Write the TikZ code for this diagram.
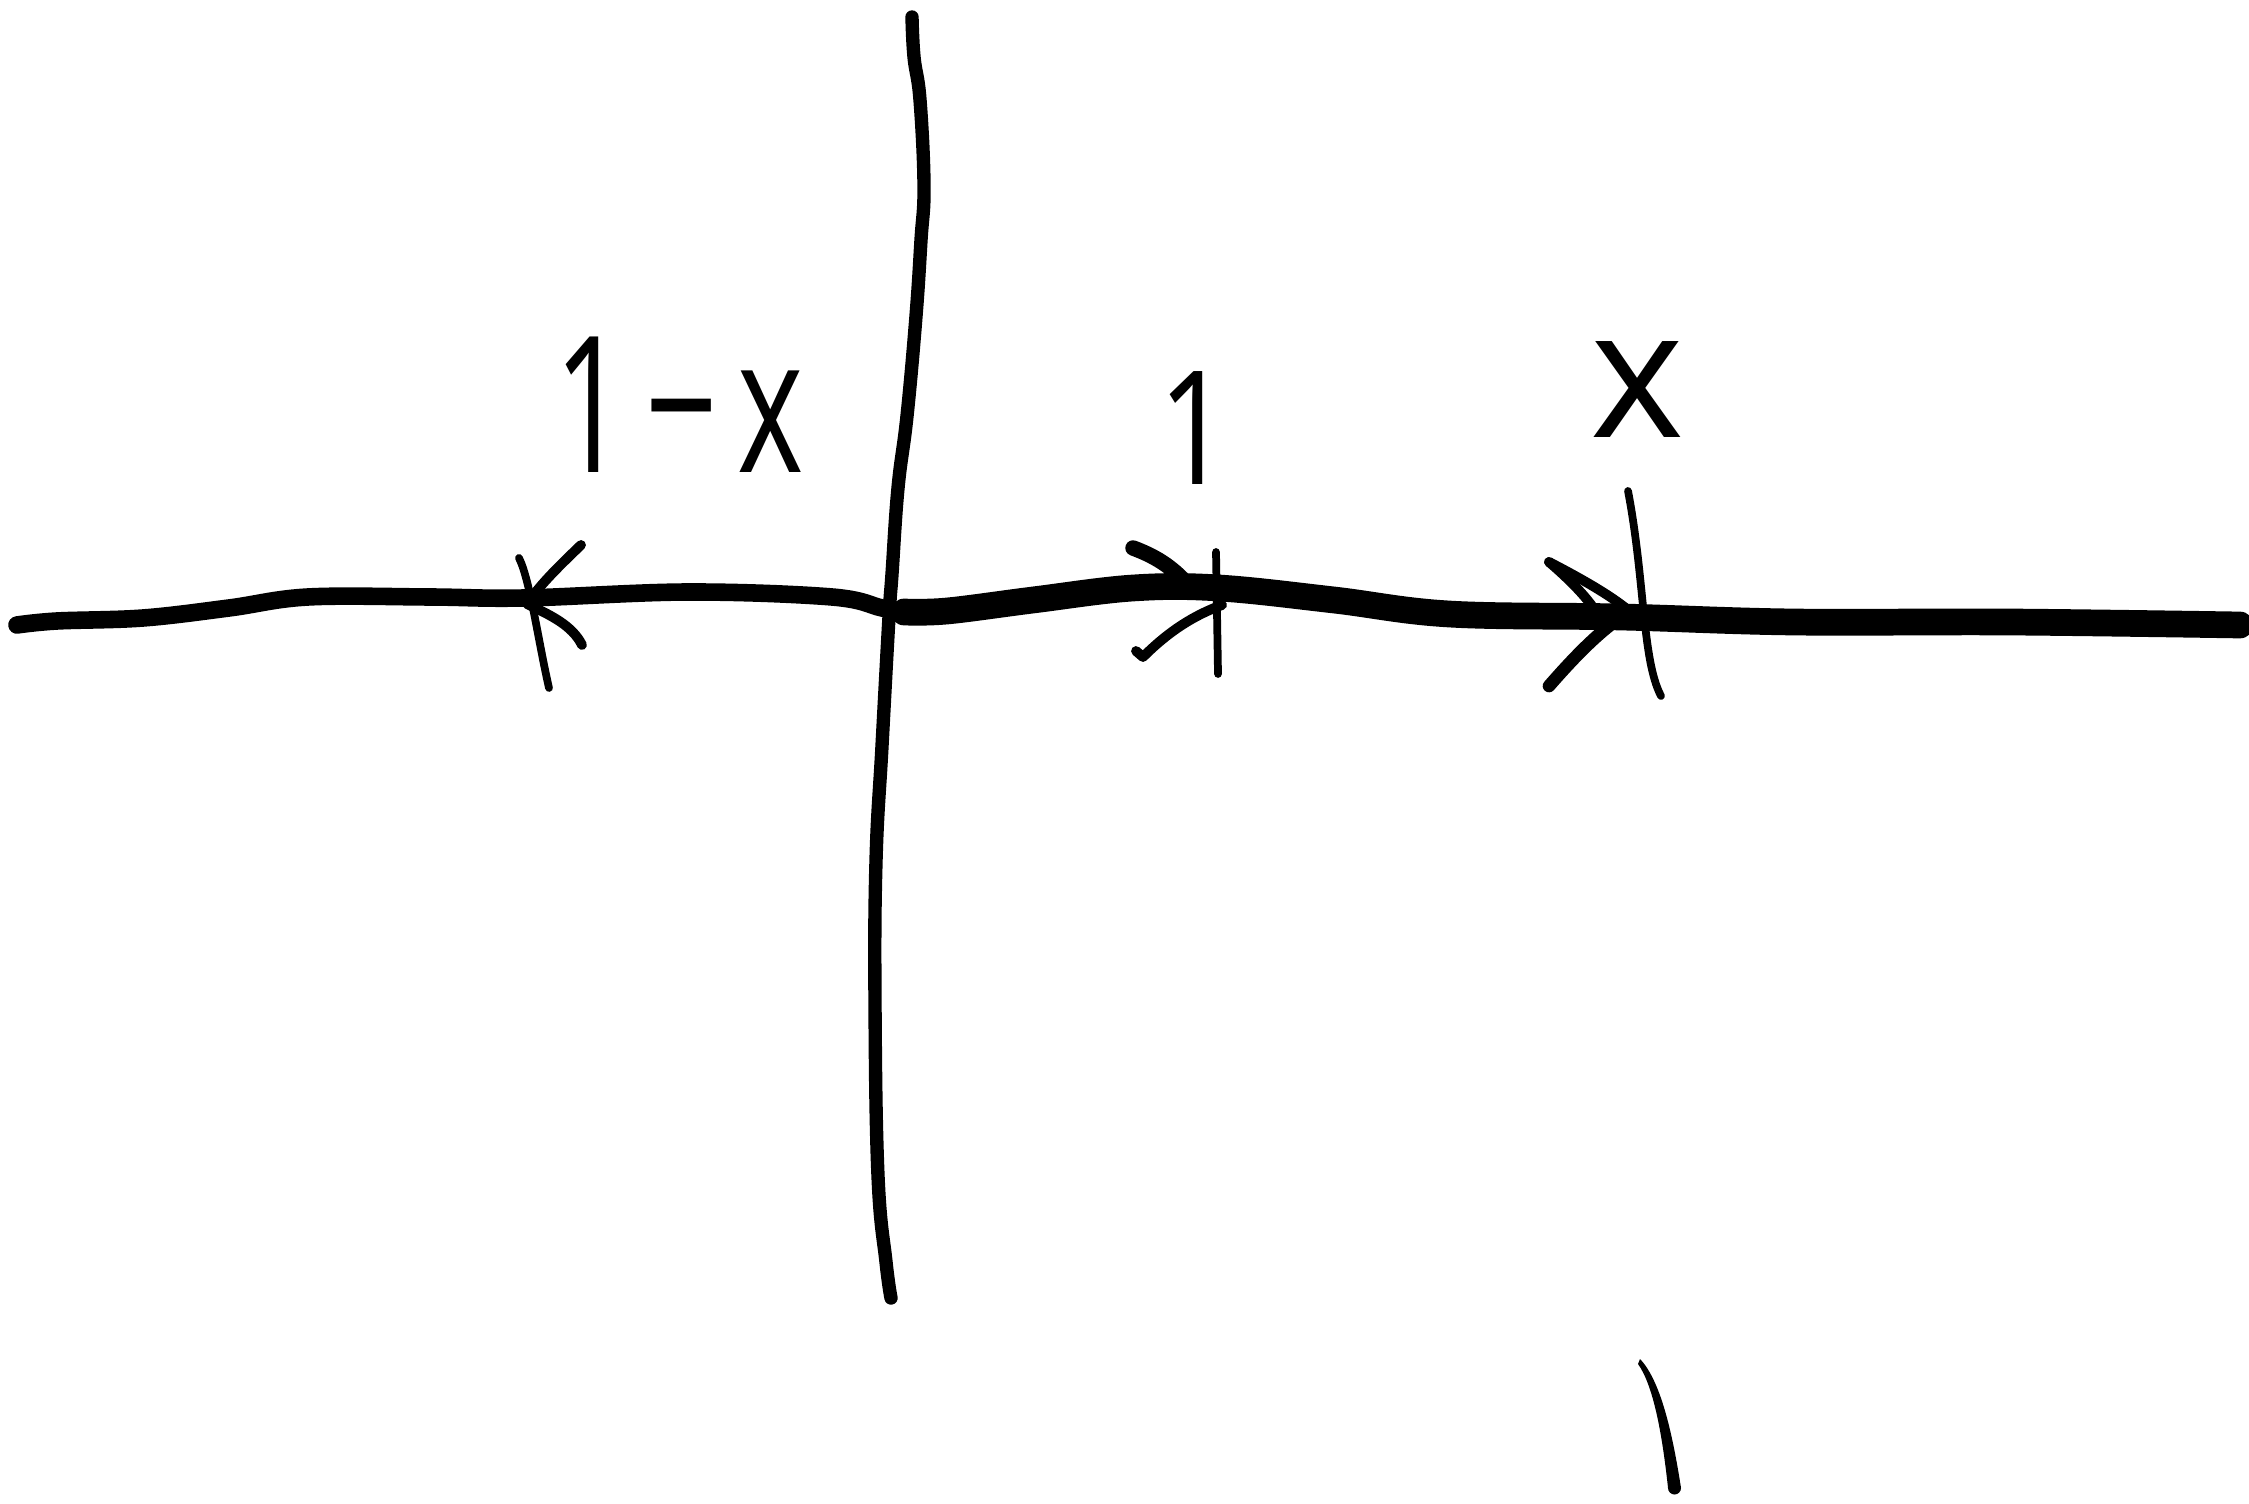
\documentclass[tikz,border=0pt]{standalone}
\usepackage{fontspec}
\setmainfont{Open Sans}
\usepackage{graphicx}
\usetikzlibrary{positioning}
\tikzset{
  axisline/.style={line width=#1,line cap=round,line join=round},
  tickline/.style={line width=2.2pt,line cap=round},
  headline/.style={line width=2.8pt,line cap=round,line join=round},
  handlabel/.style={inner sep=0pt,font=\fontsize{#1}{#1}\selectfont}
}
\begin{document}
\begin{tikzpicture}[x=0.01cm,y=-0.01cm]
        \useasboundingbox[fill=white] (0,0) rectangle (2249,1504);
        \draw[axisline=5pt] plot[smooth,tension=0.6] coordinates {(17,625) (57,621) (143,618) (229,608) (308,597) (430,597) (524,598) (688,592) (832,597) (882,608) (904,612)};
        \draw[axisline=7.6pt] plot[smooth,tension=0.6] coordinates {(904,612) (947,611) (1033,600) (1133,588) (1219,588) (1334,600) (1449,614) (1621,617) (1793,622) (2008,622) (2240,625)};
        \draw[axisline=3.8pt] plot[smooth,tension=0.7] coordinates {(912,17) (914,57) (920,100) (924,186) (921,240) (916,316) (907,416) (898,488) (892,574) (889,617) (882,746) (876,861) (875,1004) (878,1176) (886,1262) (891,1298)};
        \coordinate (tA) at (519,558);
        \coordinate (tB) at (1216,552);
        \coordinate (tC) at (1628,491);
        \draw[tickline] (tA) .. controls (530,580) and (538,640) .. (549,688);
        \draw[tickline] (tB) -- (1218,674);
        \draw[tickline] (tC) .. controls (1645,580) and (1642,660) .. (1661,696);
        \draw[headline] (581,545) .. controls (555,570) and (540,585) .. (527,604) .. controls (550,615) and (572,625) .. (582,645);
        \draw[headline,line width=4.4pt] (1133,548) .. controls (1160,558) and (1175,570) .. (1190,587);
        \draw[headline] (1136,651) -- (1143,657) .. controls (1170,630) and (1195,615) .. (1222,605);
        \draw[headline] (1549,562) .. controls (1580,578) and (1610,595) .. (1628,610);
        \draw[headline] (1549,562) .. controls (1570,580) and (1590,600) .. (1599,617);
        \draw[headline,line width=3.6pt] (1549,686) .. controls (1570,662) and (1595,635) .. (1621,617);
        \fill (1640,1359) .. controls (1660,1380) and (1672,1430) .. (1681,1488) arc[start angle=0,end angle=180,radius=6.5] .. controls (1662,1432) and (1653,1385) .. (1638,1364) -- cycle;
        \node[handlabel=36pt] (oneminusx) at (679,405) {\scalebox{1}[1.5]{1\kern.15em−\kern.15em x}};
        \node[handlabel=36pt] (one) at (1195,428) {\scalebox{1}[1.25]{1}};
        \node[handlabel=51pt] (xlab) at (1637,390) {x};
      \end{tikzpicture}
\end{document}
